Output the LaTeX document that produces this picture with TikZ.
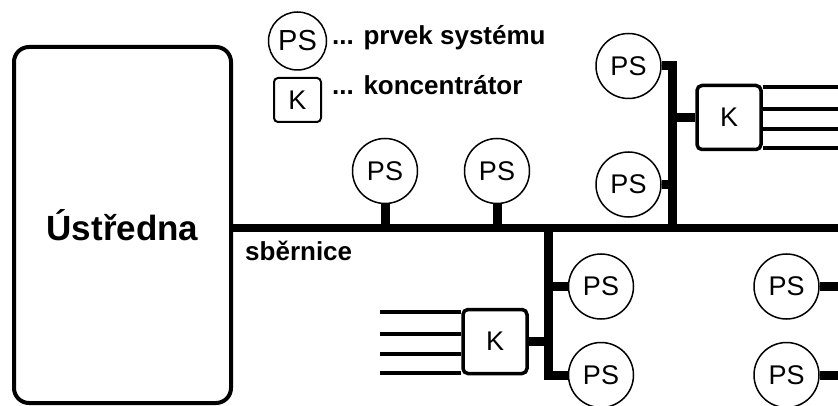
\documentclass[tikz,border=0pt]{standalone}
\usepackage{fontspec}
\setmainfont{Liberation Sans}
\begin{document}
\begin{tikzpicture}[x=1pt,y=-1pt,
  prvek/.style={draw, circle, line width=1.5pt, minimum size=65pt, inner sep=0pt, font=\fontsize{27}{30}\selectfont},
  konc/.style={draw, rectangle, rounded corners=5pt, line width=3.5pt, minimum width=64pt, minimum height=64pt, inner sep=0pt, font=\fontsize{27}{30}\selectfont},
  sbernice/.style={line width=8pt},
  odbocka/.style={line width=9pt},
  vodic/.style={line width=4pt},
  popis/.style={font=\bfseries\fontsize{26}{30}\selectfont, inner sep=0pt}]
\useasboundingbox (0,0) rectangle (838,406);
% legenda
\node[prvek, minimum size=58pt, font=\fontsize{29}{30}\selectfont] (leg1) at (297.5,41) {PS};
\node[popis, anchor=base west] (leg1t) at (332,45) {... prvek systému};
\node[konc, minimum width=47pt, minimum height=44pt, line width=2pt, rounded corners=4pt] (leg2) at (297.5,100) {K};
\node[popis, anchor=base west] (leg2t) at (332,95) {... koncentrátor};
% ustredna
\node[draw, line width=4pt, rounded corners=15pt, minimum width=217pt, minimum height=356pt, font=\bfseries\fontsize{35}{40}\selectfont] (ustr) at (122.5,225) {Ústředna};
% sbernice
\coordinate (konec) at (838,228);
\draw[sbernice] (ustr.east |- konec) -- (konec);
\node[popis, anchor=base west] (sbl) at (245,260) {sběrnice};
% prvky na sbernici
\node[prvek] (ps1) at (385,171) {PS};
\node[prvek] (ps2) at (497,171) {PS};
\draw[odbocka] (ps1.south) -- (ps1.south |- konec);
\draw[odbocka] (ps2.south) -- (ps2.south |- konec);
% horni vetev
\coordinate (v1) at (672.5,0);
\node[prvek] (ps3) at (628.5,66) {PS};
\node[prvek] (ps4) at (628.5,184.5) {PS};
\node[konc] (k1) at (729,117.5) {K};
\draw[odbocka] (ps3.east) -| (v1 |- konec);
\draw[odbocka] (ps4.east) -- (ps4.east -| v1);
\draw[odbocka] (k1.west) -- (k1.west -| v1);
\foreach \d in {-30,-8,12,31}
  \draw[vodic] (k1.east) ++(0,\d) -- ++(80,0);
% dolni vetev
\coordinate (v2) at (548,0);
\node[prvek] (ps5) at (601,286.5) {PS};
\node[prvek] (ps6) at (601,375) {PS};
\node[konc] (k2) at (495,341.5) {K};
\draw[odbocka] (v2 |- konec) |- (ps6.west);
\draw[odbocka] (ps5.west) -- (ps5.west -| v2);
\draw[odbocka] (k2.east) -- (k2.east -| v2);
\foreach \d in {-30,-8,12,31}
  \draw[vodic] (k2.west) ++(0,\d) -- ++(-81,0);
% prava vetev
\coordinate (v3) at (842,0);
\node[prvek] (ps7) at (786.5,286.5) {PS};
\node[prvek] (ps8) at (786.5,375) {PS};
\draw[odbocka] (v3 |- konec) |- (ps8.east);
\draw[odbocka] (ps7.east) -- (ps7.east -| v3);
\end{tikzpicture}
\end{document}
